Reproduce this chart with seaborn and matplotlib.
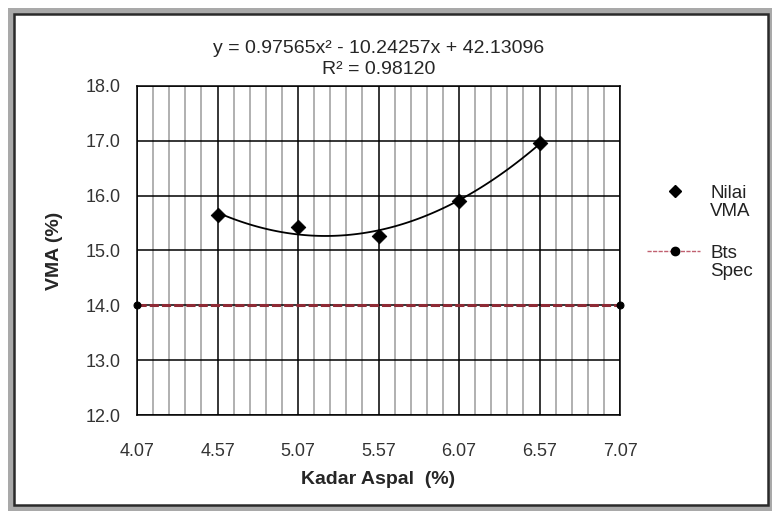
import matplotlib
matplotlib.use("Agg")
import matplotlib.pyplot as plt
import numpy as np
import pandas as pd
import seaborn as sns
from matplotlib.lines import Line2D
from matplotlib.patches import Rectangle

# data
kadar_aspal = [4.57, 5.07, 5.57, 6.07, 6.57]
nilai_vma = [15.64, 15.43, 15.27, 15.91, 16.96]
spec_x = [4.07, 7.07]
spec_y = [14.0, 14.0]
x_ticks = [4.07, 4.57, 5.07, 5.57, 6.07, 6.57, 7.07]
y_ticks = [12.0, 13.0, 14.0, 15.0, 16.0, 17.0, 18.0]
legend_labels = ["Nilai\nVMA", "Bts\nSpec"]
title = "y = 0.97565x\u00b2 - 10.24257x + 42.13096\nR\u00b2 = 0.98120"

sns.set_style("white")
plt.rcParams["font.family"] = ["Liberation Sans", "DejaVu Sans"]

df = pd.DataFrame({"Kadar": kadar_aspal, "VMA": nilai_vma})
spec = pd.DataFrame({"x": spec_x, "y": spec_y})

SPEC_COLOR = "#8e2a35"

fig = plt.figure(figsize=(7.72, 5.11), dpi=100)
W, H = 772, 511
# outer grey frame and inner border like the original screenshot
fig.patches.append(Rectangle((8 / W, 0), (W - 8) / W, (H - 8) / H,
                             transform=fig.transFigure, facecolor="#a9a9a9",
                             edgecolor="none", zorder=-3))
fig.patches.append(Rectangle((14 / W, 6 / H), (768 - 14) / W, (505 - 14) / H,
                             transform=fig.transFigure, facecolor="white",
                             edgecolor="#2a2a2a", linewidth=1.8, zorder=-2))

ax = fig.add_axes([137 / W, (H - 415) / H, 483 / W, 329 / H])
ax.set_facecolor("white")

# grid
minor_x = np.round(np.arange(x_ticks[0], x_ticks[-1] + 0.001, 0.1), 2)
ax.set_xticks(minor_x, minor=True)
ax.set_xticks(x_ticks)
ax.set_xticklabels([f"{t:.2f}" for t in x_ticks])
ax.set_yticks(y_ticks)
ax.set_yticklabels([f"{t:.1f}" for t in y_ticks])
ax.grid(which="minor", axis="x", color="#aaaaaa", linewidth=1.3)
ax.grid(which="major", axis="both", color="black", linewidth=1.1)
ax.set_axisbelow(True)

# spec line
sns.lineplot(data=spec, x="x", y="y", ax=ax, color=SPEC_COLOR,
             linestyle=(0, (3, 1)), linewidth=2.2, marker="o",
             markersize=5, markerfacecolor="black", markeredgecolor="black",
             zorder=3, clip_on=False)

# polynomial trendline
sns.regplot(data=df, x="Kadar", y="VMA", order=2, ci=None, scatter=False,
            ax=ax, line_kws={"color": "black", "linewidth": 1.3, "zorder": 4})

# data points
sns.scatterplot(data=df, x="Kadar", y="VMA", ax=ax, marker="D", s=55,
                color="black", edgecolor="black", zorder=5)

ax.set_xlim(x_ticks[0], x_ticks[-1])
ax.set_ylim(y_ticks[0], y_ticks[-1])

for s in ax.spines.values():
    s.set_color("black")
    s.set_linewidth(1.1)
ax.tick_params(axis="x", which="major", direction="out", length=4,
               pad=16, labelsize=13, colors="black", labelcolor="#333333")
ax.tick_params(axis="x", which="minor", length=0)
ax.tick_params(axis="y", direction="out", length=5, pad=7, labelsize=13,
               colors="black", labelcolor="#333333")

ax.set_xlabel("Kadar Aspal  (%)", fontsize=14, fontweight="bold", labelpad=8)
ax.set_ylabel("VMA (%)", fontsize=14, fontweight="bold", labelpad=16)
ax.set_title(title, fontsize=14, pad=9, linespacing=1.3)

# legend on the right, marker level with the first text line
def px(x, y):
    return x / W, 1 - y / H

fig.add_artist(Line2D([px(675, 0)[0]], [px(0, 191)[1]], linestyle="none",
                      marker="D", markersize=6, color="black"))
fig.add_artist(Line2D([px(647, 0)[0], px(700, 0)[0]],
                      [px(0, 251)[1], px(0, 251)[1]], color="#c06070",
                      linestyle=(0, (3, 1)), linewidth=1.0))
fig.add_artist(Line2D([px(675, 0)[0]], [px(0, 251)[1]], linestyle="none",
                      marker="o", markersize=6, color="black"))
for label, ytop in zip(legend_labels, [185, 245]):
    fig.text(*px(710, ytop), label, fontsize=13.5, ha="left", va="top",
             linespacing=1.08, color="#222222")

fig.savefig("out.png", dpi=100)
